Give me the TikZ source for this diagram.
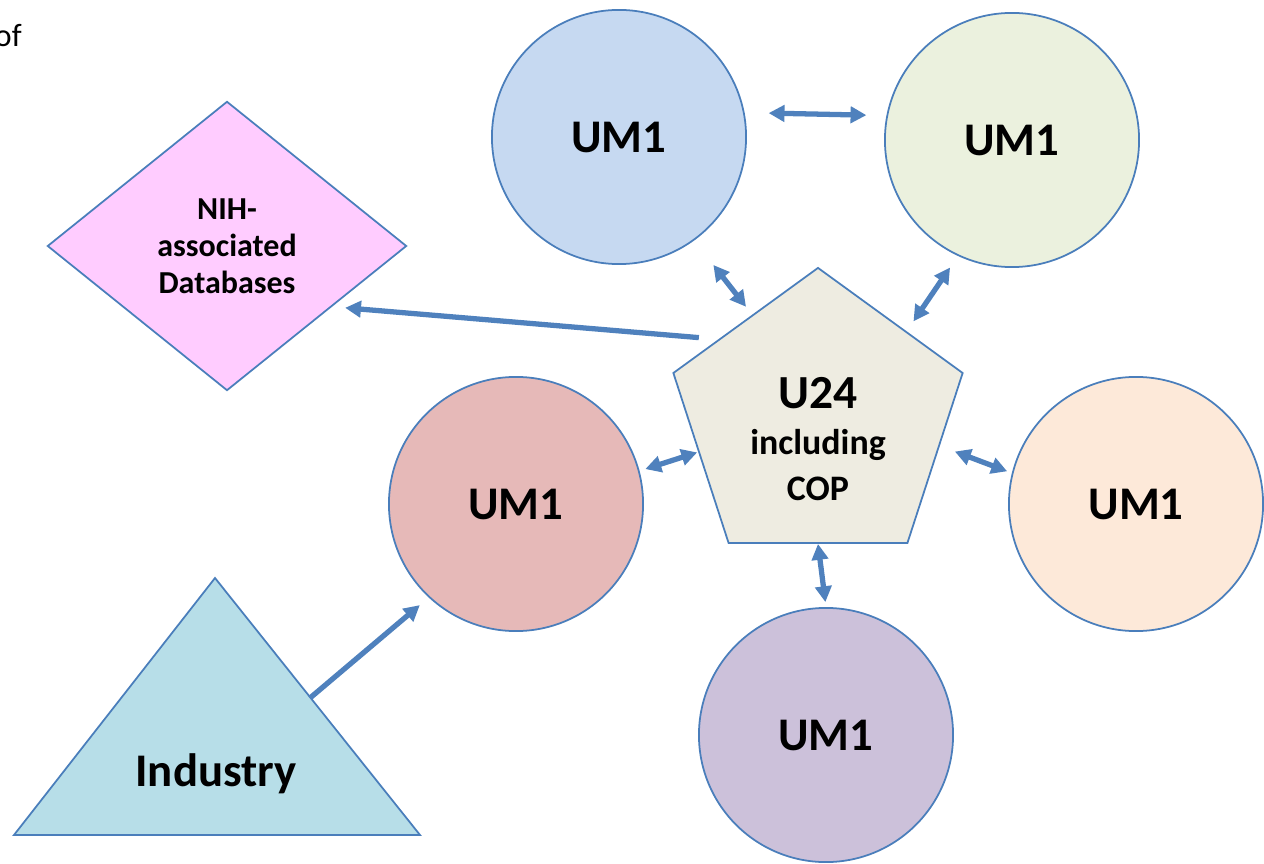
\documentclass[tikz,border=0pt]{standalone}
\usepackage{fontspec}
\setmainfont{Carlito}
\usetikzlibrary{shapes.geometric,arrows.meta}

\definecolor{edgeblue}{HTML}{4A7EBB}
\definecolor{arrowblue}{HTML}{4F81BD}
\definecolor{umblue}{HTML}{C6D9F1}
\definecolor{umgreen}{HTML}{EBF1DE}
\definecolor{umred}{HTML}{E6B9B8}
\definecolor{umpeach}{HTML}{FDE9D9}
\definecolor{umviolet}{HTML}{CCC1DA}
\definecolor{hubgray}{HTML}{EEECE1}
\definecolor{dbpink}{HTML}{FFCCFF}
\definecolor{indblue}{HTML}{B7DEE8}

\begin{document}
\begin{tikzpicture}[x = 0.01cm, y = -0.01cm,
		unit/.style = {circle, draw = edgeblue, line width = 0.5pt, minimum size = 2.54cm, inner sep = 0pt, font = \fontsize{13.3}{16}\selectfont\bfseries},
		link/.style = {arrowblue, line width = 1.5pt, {Triangle[length = 4.5pt, width = 4.6pt]}-{Triangle[length = 4.5pt, width = 4.6pt]}},
		feed/.style = {arrowblue, line width = 1.5pt, -{Triangle[length = 4.5pt, width = 4.6pt]}}]
		
		\useasboundingbox (0, 0) rectangle (1264, 864);
		
		\node[anchor = base west, inner sep = 0pt, font = \fontsize{9.2}{11}\selectfont] (cut) at (-6, 47) {of};
		
		\node[unit, fill = umblue] (umtl) at (619, 137) {UM1};
		\node[unit, fill = umgreen] (umtr) at (1012, 140) {UM1};
		\node[unit, fill = umred] (umml) at (516, 504) {UM1};
		\node[unit, fill = umpeach] (ummr) at (1136, 504) {UM1};
		\node[unit, fill = umviolet] (umbot) at (826, 735) {UM1};
		
		\node[regular polygon, regular polygon sides = 5, draw = edgeblue, fill = hubgray, line width = 0.5pt, minimum size = 3.04cm, inner sep = 0pt] (hub) at (818, 420) {};
		\node[align = center, font = \fontsize{10.2}{13.1}\selectfont\bfseries] (hubtext) at (818, 439) {{\fontsize{13.5}{13.1}\selectfont U24}\\including\\COP};
		
		\node[diamond, draw = edgeblue, fill = dbpink, line width = 0.5pt, minimum width = 3.59cm, minimum height = 2.89cm, inner sep = 0pt, align = center, font = \fontsize{9.1}{10.5}\selectfont\bfseries] (db) at (227, 246) {NIH-\\associated\\Databases};
		
		\draw[edgeblue, fill = indblue, line width = 0.5pt] (14, 835) -- (215, 578) -- (420, 835) -- cycle;
		\node[anchor = base, font = \fontsize{13.3}{16}\selectfont\bfseries] (industry) at (216, 786) {Industry};
		\coordinate (indedge) at (310, 698);
		
		\draw[link, shorten <= 0.24cm, shorten >= 0.20cm] (umtl.11) -- (umtr.169);
		\draw[link, shorten <= 0.10cm, shorten >= 0.31cm] (hub.122) -- (umtl.-54);
		\draw[link, shorten <= 0.12cm, shorten >= 0.14cm] (hub.45) -- (umtr.-115);
		\draw[link, shorten <= 0.01cm, shorten >= 0.06cm] (hub.-165) -- (umml.15);
		\draw[link, shorten <= 0.16cm, shorten >= 0.05cm] (hub.-12) -- (ummr.166);
		\draw[link, shorten >= 0.05cm] (hub.-90) -- (umbot.90);
		
		\draw[feed, shorten <= 0.195cm, shorten >= 0.13cm] (hub.141) -- (db.-30);
		\draw[feed, shorten >= 0.117cm] (indedge) -- (umml.-133);
		
	\end{tikzpicture}
\end{document}
